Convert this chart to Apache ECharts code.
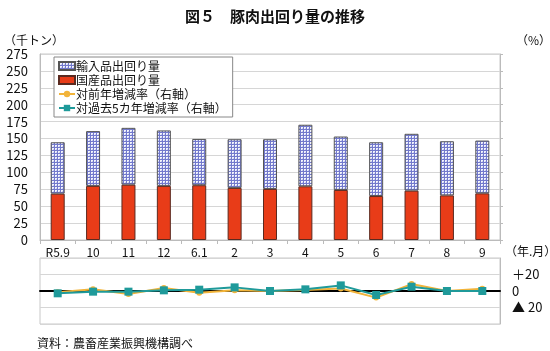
<!DOCTYPE html>
<html>
<head>
<meta charset="utf-8">
<script src="https://cdn.jsdelivr.net/npm/echarts@6/dist/echarts.min.js"></script>
<style>
html, body { margin: 0; padding: 0; background: #fff; }
#chart { width: 550px; height: 351px; }
</style>
</head>
<body>
<div id="chart"></div>
<script>
// データ（千トン、%）
var months = ['R5.9', '10', '11', '12', '6.1', '2', '3', '4', '5', '6', '7', '8', '9'];
var domestic = [68.5, 80, 81.8, 80, 81, 77, 75.5, 79.4, 74, 65, 73, 66, 69];
var imported = [76, 81, 84, 82, 68.4, 72, 73.5, 91, 79, 79.5, 84, 80, 78];
var yoyRate = [-1.6, 2, -3.6, 3.6, -2, 1, 0, 1.2, 3, -8, 8.4, 0, 2.8];
var fiveYearRate = [-2.8, -0.8, -0.8, 0.8, 1.6, 4.4, 0, 2, 6.8, -4.8, 5.2, 0, 0];

var FONT = '"Noto Sans CJK JP", "Noto Sans", sans-serif';

// 輸入品の格子模様
var pat = document.createElement('canvas');
pat.width = 3;
pat.height = 3;
var pctx = pat.getContext('2d');
pctx.fillStyle = '#c4c9ef';
pctx.fillRect(0, 0, 3, 3);
pctx.fillStyle = '#f2f3fc';
pctx.fillRect(0, 1, 3, 1);
pctx.fillRect(1, 0, 1, 3);
pctx.fillStyle = '#7279cc';
pctx.fillRect(0, 0, 3, 1);
pctx.fillRect(0, 0, 1, 3);

var chart = echarts.init(document.getElementById('chart'));

var option = {
	backgroundColor: '#fff',
	animation: false,
	textStyle: { fontFamily: FONT },
	title: {
		text: '図５　豚肉出回り量の推移',
		left: 'center',
		top: 4,
		textStyle: { fontFamily: FONT, fontSize: 15, fontWeight: 'bold', color: '#111' }
	},
	legend: {
		orient: 'vertical',
		left: 54,
		top: 57,
		itemGap: 2,
		itemWidth: 16,
		itemHeight: 8,
		padding: [3, 6, 3, 4],
		borderColor: '#888',
		borderWidth: 1,
		backgroundColor: '#fff',
		textStyle: { fontFamily: FONT, fontSize: 12, color: '#111', padding: [0, 0, 0, -4] },
		data: [
			{ name: '輸入品出回り量', icon: 'rect' },
			{ name: '国産品出回り量', icon: 'rect' },
			'対前年増減率（右軸）',
			'対過去5カ年増減率（右軸）'
		]
	},
	grid: [
		{ left: 40, right: 50, top: 54, height: 186, show: true, borderColor: '#c8c8c8', borderWidth: 1 },
		{ left: 40, right: 50, top: 258, height: 66, show: true, borderColor: '#c8c8c8', borderWidth: 1 }
	],
	xAxis: [
		{
			type: 'category',
			gridIndex: 0,
			data: months,
			axisLine: { lineStyle: { color: '#bbb' } },
			axisTick: { show: true, length: 4, lineStyle: { color: '#bbb' } },
			axisLabel: { color: '#111', fontSize: 12, margin: 6 }
		},
		{
			type: 'category',
			gridIndex: 1,
			data: months,
			axisLine: { onZero: true, lineStyle: { color: '#000', width: 2 } },
			axisTick: { show: false },
			axisLabel: { show: false }
		}
	],
	yAxis: [
		{
			type: 'value',
			gridIndex: 0,
			min: 0,
			max: 275,
			interval: 25,
			axisLine: { show: true, lineStyle: { color: '#bbb' } },
			axisTick: { show: false },
			axisLabel: { color: '#111', fontSize: 13, margin: 12 },
			splitLine: { lineStyle: { color: '#d6d6d6' } }
		},
		{
			type: 'value',
			gridIndex: 0,
			position: 'right',
			min: 0,
			max: 275,
			interval: 25,
			axisLine: { show: true, lineStyle: { color: '#bbb' } },
			axisTick: { show: true, length: 3, lineStyle: { color: '#bbb' } },
			axisLabel: { show: false },
			splitLine: { show: false }
		},
		{
			type: 'value',
			gridIndex: 1,
			position: 'right',
			min: -40,
			max: 40,
			interval: 20,
			axisLine: { show: true, lineStyle: { color: '#bbb' } },
			axisTick: { show: false },
			axisLabel: {
				color: '#111',
				fontSize: 13,
				margin: 12,
				formatter: function (v) {
					if (v === 20) return '＋20';
					if (v === 0) return '0';
					if (v === -20) return '▲ 20';
					return '';
				}
			},
			splitLine: { lineStyle: { color: '#d6d6d6' } }
		}
	],
	graphic: [
		{ type: 'text', left: 4, top: 34, style: { text: '（千トン）', font: '12px ' + FONT, fill: '#111' } },
		{ type: 'text', left: 516, top: 34, style: { text: '（%）', font: '12px ' + FONT, fill: '#111' } },
		{ type: 'text', left: 505, top: 245, style: { text: '（年.月）', font: '12px ' + FONT, fill: '#111' } },
		{ type: 'text', left: 37, top: 337, style: { text: '資料：農畜産業振興機構調べ', font: '12px ' + FONT, fill: '#111' } }
	],
	series: [
		{
			name: '国産品出回り量',
			type: 'bar',
			xAxisIndex: 0,
			yAxisIndex: 0,
			stack: 'total',
			barWidth: 14,
			itemStyle: { color: '#e83c18', borderColor: '#5a2a20', borderWidth: 1 },
			data: domestic
		},
		{
			name: '輸入品出回り量',
			type: 'bar',
			xAxisIndex: 0,
			yAxisIndex: 0,
			stack: 'total',
			barWidth: 14,
			itemStyle: { color: { image: pat, repeat: 'repeat' }, borderColor: '#555', borderWidth: 1 },
			data: imported
		},
		{
			name: '対前年増減率（右軸）',
			type: 'line',
			xAxisIndex: 1,
			yAxisIndex: 2,
			symbol: 'circle',
			symbolSize: 6,
			lineStyle: { color: '#f2b43a', width: 2 },
			itemStyle: { color: '#f2b43a' },
			data: yoyRate
		},
		{
			name: '対過去5カ年増減率（右軸）',
			type: 'line',
			xAxisIndex: 1,
			yAxisIndex: 2,
			symbol: 'rect',
			symbolSize: 8,
			lineStyle: { color: '#1f9a9a', width: 2 },
			itemStyle: { color: '#1f9a9a' },
			data: fiveYearRate
		}
	]
};

chart.setOption(option);

window.onresize = function () {
	chart.resize();
};
</script>
</body>
</html>
